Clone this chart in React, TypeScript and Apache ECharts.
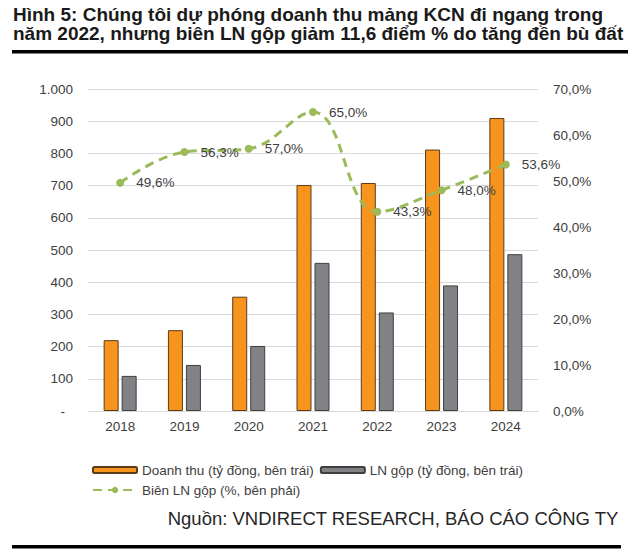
import { useRef, useEffect } from 'react'
import * as echarts from 'echarts'

const years = ['2018', '2019', '2020', '2021', '2022', '2023', '2024'];
const doanhThu = [220, 251, 355, 702, 708, 812, 910];
const lnGop = [109, 143, 202, 460, 306, 390, 487];
const bienLN = [49.6, 56.3, 57.0, 65.0, 43.3, 48.0, 53.6];
const leftTicks = { min: 0, max: 1000, interval: 100 };
const rightTicks = { min: 0, max: 70, interval: 10 };

const FONT = "'Liberation Sans', Arial, sans-serif";
const pct = (v: number) => v.toFixed(1).replace('.', ',') + '%';
const thousands = (v: number) => String(v).replace(/\B(?=(\d{3})+(?!\d))/g, '.');

function App() {
  const chartRef = useRef<HTMLDivElement>(null);

  useEffect(() => {
    document.body.style.margin = '0';
    if (!chartRef.current) return;
    const myChart = echarts.init(chartRef.current, null, { renderer: 'svg' });
    const option = {
      animation: false,
      backgroundColor: '#ffffff',
      textStyle: { fontFamily: FONT },
      grid: { left: 88, right: 98, top: 89, bottom: 140 },
      legend: [
        {
          data: ['Doanh thu (tỷ đồng, bên trái)', 'LN gộp (tỷ đồng, bên trái)'],
          left: 87, top: 458,
          itemWidth: 44, itemHeight: 6, itemGap: 6,
          textStyle: { fontSize: 13.5, color: '#404040', fontFamily: FONT }
        },
        {
          data: ['Biên LN gộp (%, bên phải)'],
          left: 87, top: 478,
          itemWidth: 44, itemHeight: 8,
          textStyle: { fontSize: 13.5, color: '#404040', fontFamily: FONT }
        }
      ],
      graphic: [
        {
          type: 'text', left: 13, top: 5,
          style: {
            text: 'Hình 5: Chúng tôi dự phóng doanh thu mảng KCN đi ngang trong',
            font: `bold 19px ${FONT}`, fill: '#1a1a1a'
          }
        },
        {
          type: 'text', left: 13, top: 24,
          style: {
            text: 'năm 2022, nhưng biên LN gộp giảm 11,6 điểm % do tăng đền bù đất',
            font: `bold 19px ${FONT}`, fill: '#1a1a1a'
          }
        },
        { type: 'rect', shape: { x: 12, y: 50, width: 616, height: 3.5 }, style: { fill: '#000' } },
        {
          type: 'text', right: 17, top: 509,
          style: {
            text: 'Nguồn: VNDIRECT RESEARCH, BÁO CÁO CÔNG TY',
            font: `18.5px ${FONT}`, fill: '#262626'
          }
        },
        { type: 'rect', shape: { x: 12, y: 545, width: 609, height: 3.5 }, style: { fill: '#000' } }
      ],
      xAxis: {
        type: 'category',
        data: years,
        axisLine: { lineStyle: { color: '#d9d9d9' } },
        axisTick: { show: false },
        axisLabel: { color: '#404040', fontSize: 13.5, margin: 8 }
      },
      yAxis: [
        {
          type: 'value',
          ...leftTicks,
          axisLine: { show: false },
          axisTick: { show: false },
          splitLine: { lineStyle: { color: '#d9d9d9' } },
          axisLabel: {
            color: '#404040', fontSize: 13.5, margin: 15,
            formatter: (v: number) => (v === 0 ? '{d|-}' : thousands(v)),
            rich: { d: { padding: [0, 8, 0, 0], fontSize: 13.5, color: '#404040' } }
          }
        },
        {
          type: 'value',
          ...rightTicks,
          axisLine: { show: false },
          axisTick: { show: false },
          splitLine: { show: false },
          axisLabel: {
            color: '#404040', fontSize: 13.5, margin: 15,
            formatter: (v: number) => pct(v)
          }
        }
      ],
      series: [
        {
          name: 'Doanh thu (tỷ đồng, bên trái)',
          type: 'bar',
          data: doanhThu,
          barWidth: 15,
          barGap: '20%',
          itemStyle: { color: '#F7941D', borderColor: '#5E3B17', borderWidth: 1 }
        },
        {
          name: 'LN gộp (tỷ đồng, bên trái)',
          type: 'bar',
          data: lnGop,
          barWidth: 15,
          barGap: '20%',
          itemStyle: { color: '#808285', borderColor: '#3f3f3f', borderWidth: 1 }
        },
        {
          name: 'Biên LN gộp (%, bên phải)',
          type: 'line',
          yAxisIndex: 1,
          data: bienLN,
          smooth: 0.4,
          symbol: 'circle',
          symbolSize: 8,
          lineStyle: { color: '#9BBB59', width: 3, type: [9, 6] },
          itemStyle: { color: '#9BBB59' },
          label: {
            show: true, position: 'right', distance: 12,
            color: '#404040', fontSize: 13.5,
            formatter: (p: any) => pct(p.value)
          },
          z: 5
        }
      ]
    };
    myChart.setOption(option);

    return () => {
      myChart.dispose();
    };
  }, []);

  return (
    <div ref={chartRef} style={{ width: '636px', height: '551px' }}></div>
  )
}

export default App
